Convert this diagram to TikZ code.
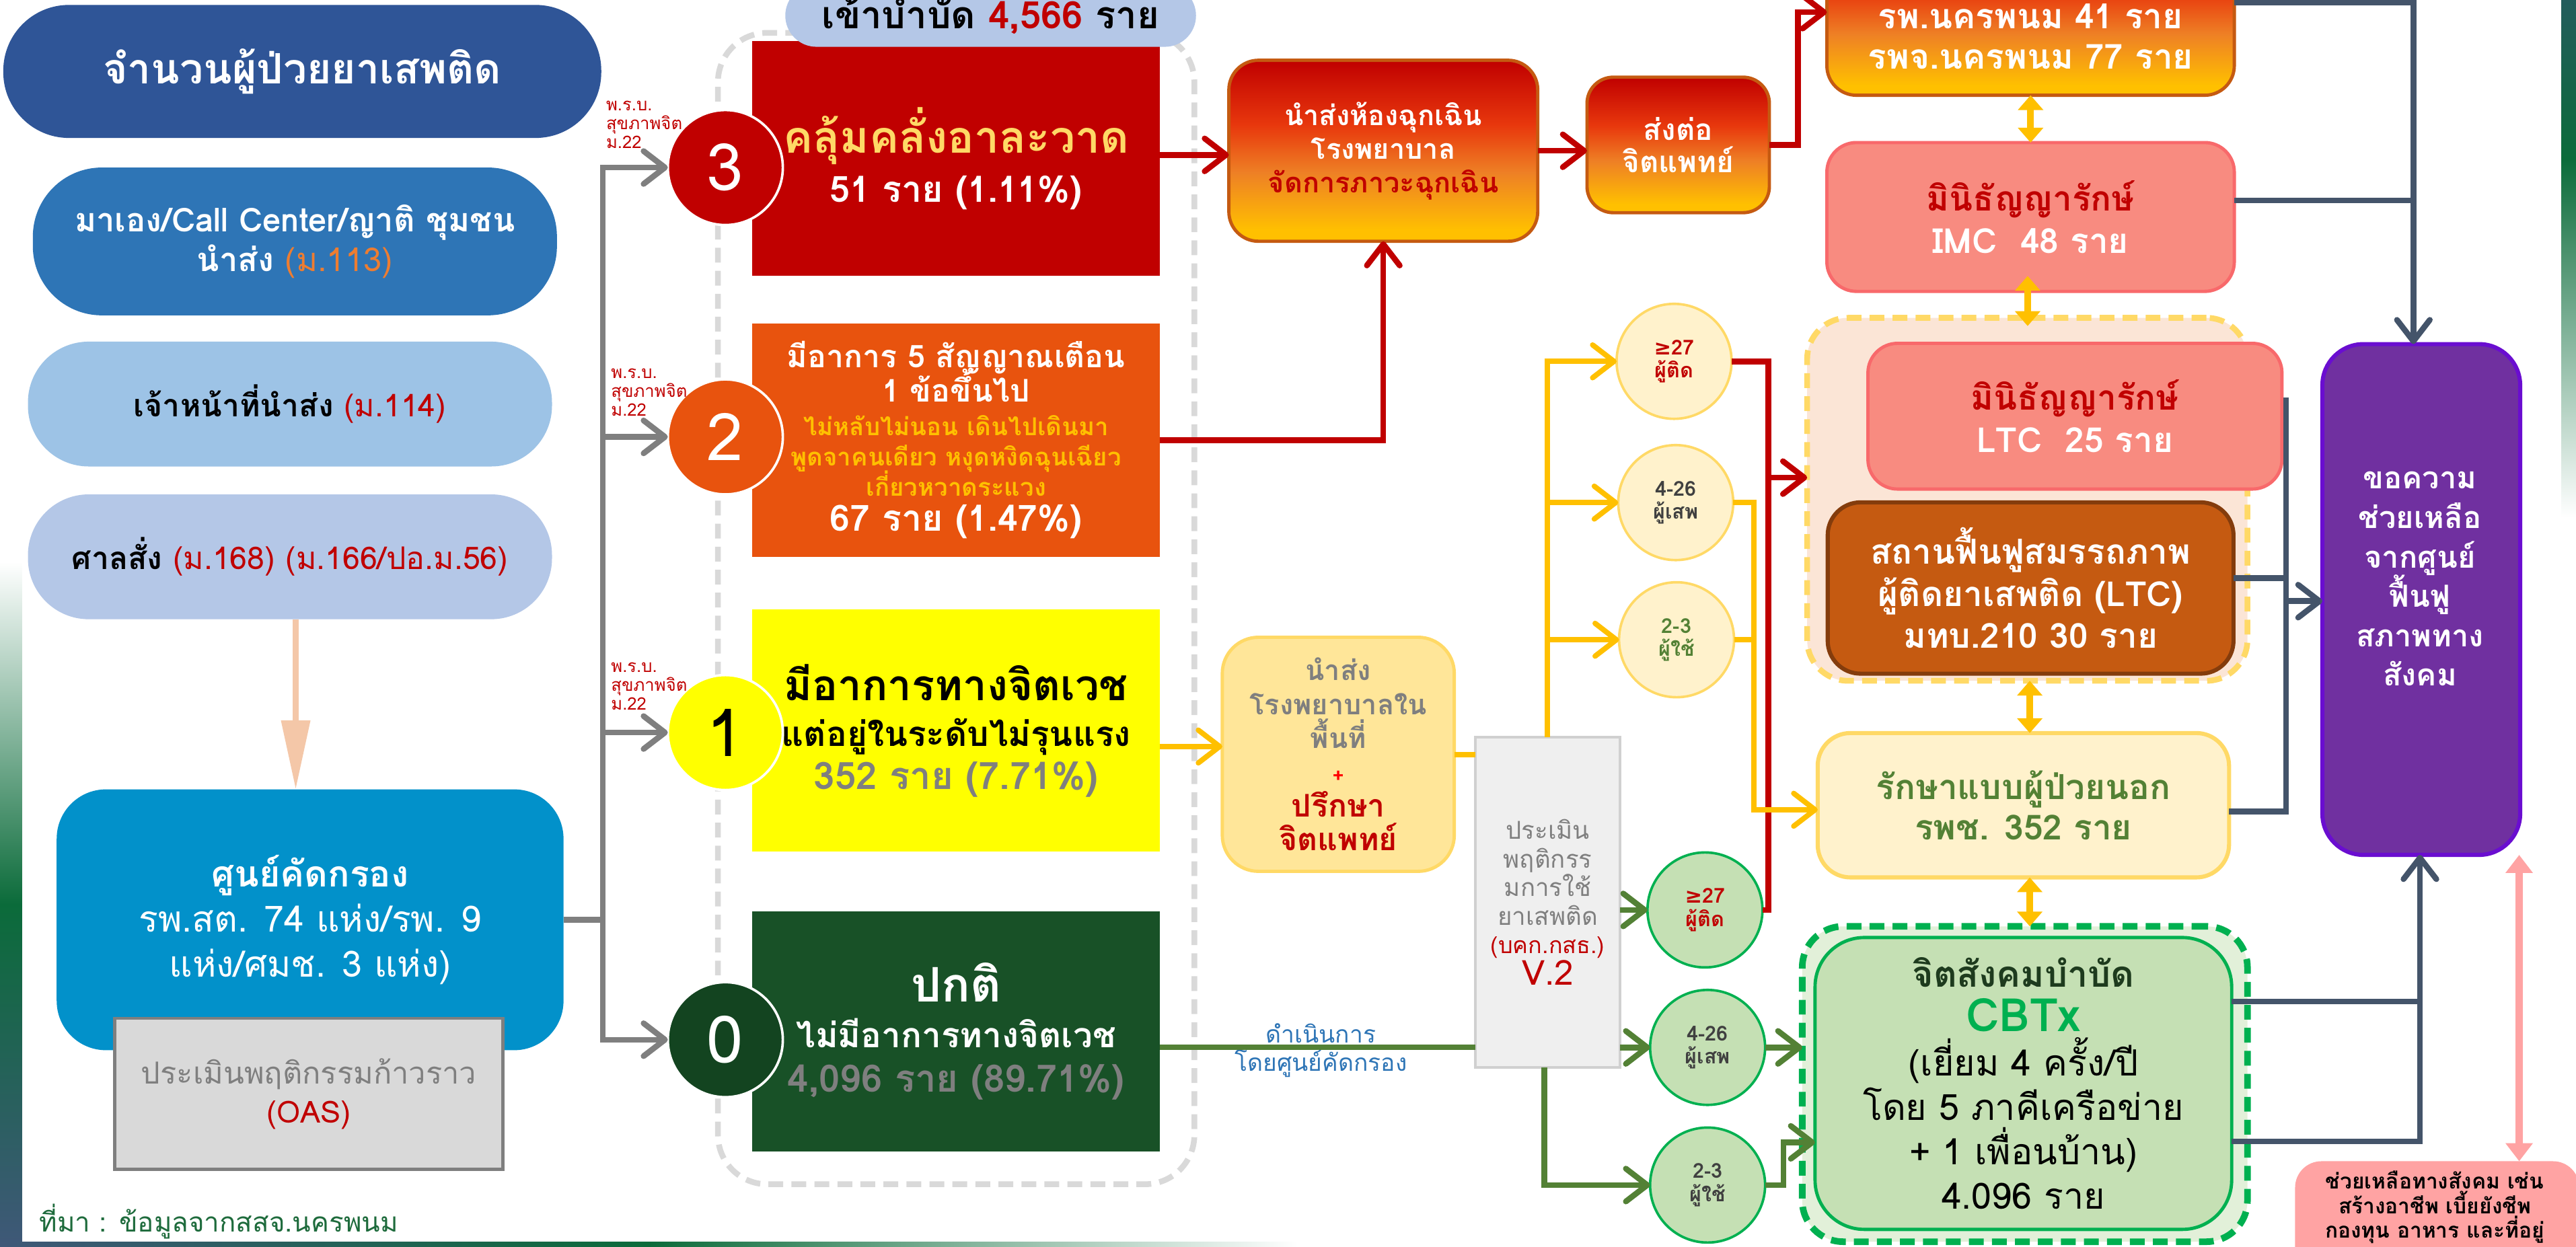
\documentclass[tikz,border=0pt]{standalone}
\usepackage{fontspec}
\setmainfont{Loma}[Script=Thai]
\newfontfamily\dejavu{DejaVu Sans}
\usetikzlibrary{arrows.meta}
\newcommand\fsz[2]{\fontsize{#1}{#2}\selectfont}
\AtBeginDocument{\lineskiplimit=-100pt\relax}
\definecolor{titleblue}{HTML}{2F5597}
\definecolor{callblue}{HTML}{2E75B6}
\definecolor{c113}{HTML}{ED7D31}
\definecolor{lblue}{HTML}{9DC3E6}
\definecolor{lavender}{HTML}{B4C7E7}
\definecolor{dred}{HTML}{C00000}
\definecolor{peach}{HTML}{F4C7A8}
\definecolor{scrblue}{HTML}{0291CA}
\definecolor{oasfill}{HTML}{D9D9D9}
\definecolor{cgray}{HTML}{7F7F7F}
\definecolor{srcgreen}{HTML}{1E6B3C}
\definecolor{orange2}{HTML}{E8530E}
\definecolor{goldtxt}{HTML}{FFD966}
\definecolor{ytxt}{HTML}{FFC000}
\definecolor{yel}{HTML}{FFFF00}
\definecolor{green0}{HTML}{185127}
\definecolor{circ0}{HTML}{134420}
\definecolor{dgray}{HTML}{D9D9D9}
\definecolor{gmid}{HTML}{E8380D}
\definecolor{orng}{HTML}{EE8025}
\definecolor{gbot}{HTML}{FFC000}
\definecolor{gborder}{HTML}{C55A11}
\definecolor{salm}{HTML}{F88B80}
\definecolor{salmb}{HTML}{F8696B}
\definecolor{ltcfill}{HTML}{FBE5D6}
\definecolor{ltcdash}{HTML}{FFD966}
\definecolor{brownf}{HTML}{C55A11}
\definecolor{brownb}{HTML}{843C0C}
\definecolor{opdfill}{HTML}{FFF2CC}
\definecolor{opdline}{HTML}{FFD966}
\definecolor{gtxt}{HTML}{538135}
\definecolor{cbtregfill}{HTML}{E2F0D9}
\definecolor{cgreen}{HTML}{00B050}
\definecolor{cbtfill}{HTML}{C5E0B4}
\definecolor{cbtdark}{HTML}{1E3B1E}
\definecolor{purp}{HTML}{7030A0}
\definecolor{purpb}{HTML}{6A0DD0}
\definecolor{pinkf}{HTML}{FFA3A3}
\definecolor{slate}{HTML}{44546A}
\definecolor{cyel}{HTML}{FFC000}
\definecolor{cgrn}{HTML}{538135}
\definecolor{lbltxt}{HTML}{2E75B6}
\definecolor{nsfill}{HTML}{FFE699}
\definecolor{gbfill}{HTML}{EFEFEF}
\definecolor{gbline}{HTML}{D0D0D0}
\definecolor{stripgreen}{HTML}{0B6B3A}
\definecolor{stripblue}{HTML}{3F5878}
\definecolor{rtop}{HTML}{235C5C}
\definecolor{dgtxt}{HTML}{404040}
\pgfdeclareverticalshading{emg}{100bp}{color(0bp)=(gbot); color(28bp)=(gbot); color(44bp)=(orng); color(57bp)=(gmid); color(75bp)=(dred); color(100bp)=(dred)}
\tikzset{
  bbar/.tip={Straight Barb[length=13pt,width=20pt,round]},
  ytri/.tip={Triangle[length=9pt,width=15pt]},
  pktri/.tip={Triangle[length=11pt,width=16pt]},
  peachtri/.tip={Triangle[length=42pt,width=17pt]},
}
\begin{document}
\begin{tikzpicture}[x=1pt,y=-1pt,
  every node/.style={inner sep=0pt,outer sep=0pt},
  rc/.style={draw=dred,line width=3.5pt},
  yc/.style={draw=cyel,line width=3.2pt},
  gc/.style={draw=cgrn,line width=3.5pt},
  sc/.style={draw=slate,line width=3.5pt},
  grc/.style={draw=cgray,line width=3.5pt},
  dbl/.style={draw=cyel,line width=4pt,ytri-ytri},
  emgbox/.style={shade,shading=emg,draw=gborder,line width=2pt},
  salmbox/.style={fill=salm,draw=salmb,line width=2pt,rounded corners=18pt},
  numcirc/.style={circle,minimum size=70pt,draw=white,line width=1.5pt,font=\fsz{40}{40}},
  lbl/.style={anchor=west,align=left,text=dred,font=\fsz{10.5}{11.5}},
  ycirc/.style={circle,minimum size=70pt,fill=opdfill,draw=opdline,line width=1.5pt,align=center,font=\bfseries\fsz{12.5}{14}},
  gcirc/.style={circle,minimum size=70pt,fill=cbtfill,draw=cgreen,line width=1.5pt,align=center,font=\bfseries\fsz{12.5}{14}},
  sqbox/.style={minimum width=248pt,align=center},
]
\useasboundingbox (0,0) rectangle (1568,759);
\clip (0,0) rectangle (1568,759);
\fill[white] (0,0) rectangle (1568,759);
% decorative strips
\shade[top color=white,bottom color=stripblue,middle color=stripgreen] (0,342) rectangle (13.5,759);
\shade[left color=stripblue,right color=white,middle color=stripgreen] (0,756) rectangle (790,759);
\shade[top color=rtop,bottom color=stripgreen] (1559,0) rectangle (1568,97);
\shade[top color=stripgreen,bottom color=white] (1559,97) rectangle (1568,315);

% left column
\node[fill=titleblue,rounded corners=40pt,minimum width=364pt,minimum height=81pt,text=white,font=\bfseries\fsz{25.5}{28}] (title) at (184,43.5) {จำนวนผู้ป่วยยาเสพติด};
\node[fill=callblue,rounded corners=42pt,minimum width=319pt,minimum height=90pt,text=white,align=center,font=\bfseries\fsz{20}{24}] (callc) at (179.5,147) {มาเอง/Call Center/ญาติ ชุมชน\\นำส่ง {\mdseries\color{c113}(ม.113)}};
\node[fill=lblue,rounded corners=37pt,minimum width=319pt,minimum height=76pt,font=\bfseries\fsz{19}{24}] (officer) at (176.5,246) {เจ้าหน้าที่นำส่ง {\mdseries\color{dred}(ม.114)}};
\node[fill=lavender,rounded corners=37pt,minimum width=319pt,minimum height=76pt,font=\bfseries\fsz{19}{24}] (court) at (176.5,339) {ศาลสั่ง {\mdseries\color{dred}(ม.168) (ม.166/ปอ.ม.56)}};
\node[fill=scrblue,rounded corners=30pt,minimum width=308.5pt,minimum height=158.8pt,text=white,align=center,font=\fsz{22}{27.5}] (screen) at (188.75,560) {{\bfseries ศูนย์คัดกรอง}\\รพ.สต. 74 แห่ง/รพ. 9\\แห่ง/ศมช. 3 แห่ง)};
\node[fill=oasfill,draw=cgray,line width=2pt,minimum width=236pt,minimum height=92pt,text=cgray,align=center,font=\fsz{18.5}{23.5}] (oas) at (188,666) {ประเมินพฤติกรรมก้าวราว\\{\color{dred}(OAS)}};
\node[anchor=west,text=srcgreen,font=\fsz{16.5}{18}] (src) at (24,743.5) {ที่มา : ข้อมูลจากสสจ.นครพนม};

\coordinate (pk) at (180,0);
\draw[draw=peach,line width=3.5pt,-peachtri] (court.south -| pk) -- (screen.north -| pk);

% dashed region and level boxes
\node[draw=dgray,dash pattern=on 9pt off 5pt,line width=3.5pt,rounded corners=30pt,minimum width=290pt,minimum height=701pt] (dreg) at (582,370.5) {};
\node[sqbox,fill=dred,minimum height=143pt,text=white,font=\bfseries\fsz{22}{29.6}] (b3) at (582,96.5) {{\color{goldtxt}\fsz{27}{29.6}คลุ้มคลั่งอาละวาด}\\51 ราย (1.11\%)};
\node[sqbox,fill=orange2,minimum height=142pt,text=white,font=\bfseries\fsz{19}{20.5}] (b2) at (582,268) {มีอาการ 5 สัญญาณเตือน\\1 ข้อขึ้นไป\\{\color{ytxt}\fsz{15}{18}ไม่หลับไม่นอน เดินไปเดินมา}\\[-2pt]{\color{ytxt}\fsz{15}{18}พูดจาคนเดียว หงุดหงิดฉุนเฉียว}\\[-2pt]{\color{ytxt}\fsz{15}{18}เกี่ยวหวาดระแวง}\\[1pt]{\fsz{22}{22}67 ราย (1.47\%)}};
\node[sqbox,fill=yel,minimum height=147.5pt,font=\bfseries\fsz{21}{28}] (b1) at (582,444.8) {{\fsz{26}{28}มีอาการทางจิตเวช}\\แต่อยู่ในระดับไม่รุนแรง\\[-2pt]{\color{cgray}\fsz{23}{28}352 ราย (7.71\%)}};
\node[sqbox,fill=green0,minimum height=146.5pt,text=white,font=\bfseries\fsz{21}{28}] (b0) at (582,628) {{\fsz{29}{28}ปกติ}\\ไม่มีอาการทางจิตเวช\\[-1pt]{\color{cgray}\fsz{23}{28}4,096 ราย (89.71\%)}};
\node[fill=lavender,rounded corners=19pt,minimum width=250pt,minimum height=38pt,font=\bfseries\fsz{23}{24}] (pill) at (603,9.5) {เข้าบำบัด {\color{dred}4,566} ราย};

% circles
\node[numcirc,fill=dred,text=white] (c3) at (441.5,102) {3};
\node[numcirc,fill=orange2,text=white] (c2) at (441.5,266) {2};
\node[numcirc,fill=yel,text=black] (c1) at (441.5,446) {1};
\node[numcirc,fill=circ0,text=white] (c0) at (441.5,633) {0};
\node[lbl] (l3) at (369,76) {พ.ร.บ.\\สุขภาพจิต\\ม.22};
\node[lbl] (l2) at (372,239) {พ.ร.บ.\\สุขภาพจิต\\ม.22};
\node[lbl] (l1) at (372,418) {พ.ร.บ.\\สุขภาพจิต\\ม.22};

% gray connectors
\coordinate (gt) at (367,0);
\draw[grc] (screen.east) -- (screen.east -| gt);
\draw[grc,line cap=rect] (c3.west -| gt) -- (c0.west -| gt);
\foreach \c in {c3,c2,c1,c0} \draw[grc,-bbar] (\c.west -| gt) -- (\c.west);

% emergency chain
\node[emgbox,rounded corners=18pt,minimum width=188pt,minimum height=110.2pt,align=center,text=white,font=\bfseries\fsz{17}{20.5}] (emerg) at (842,91.8) {นำส่งห้องฉุกเฉิน\\โรงพยาบาล\\{\color{dred}จัดการภาวะฉุกเฉิน}};
\node[emgbox,rounded corners=16pt,minimum width=111pt,minimum height=82.5pt,align=center,text=white,font=\bfseries\fsz{18}{20}] (send) at (1021.5,88.25) {ส่งต่อ\\จิตแพทย์};
\node[emgbox,rounded corners=18pt,minimum width=248pt,minimum height=98pt] (topb) at (1236,9) {};
\node[text=white,align=center,font=\bfseries\fsz{21}{24.7}] (topt) at (1236,22.3) {รพ.นครพนม 41 ราย\\รพจ.นครพนม 77 ราย};

% right column
\node[salmbox,minimum width=248pt,minimum height=90.6pt,align=center,font=\bfseries\fsz{21}{26}] (imc) at (1236,132.1) {{\color{dred}มินิธัญญารักษ์}\\{\color{white}IMC\ \ 48 ราย}};
\node[fill=ltcfill,draw=ltcdash,dash pattern=on 9pt off 5pt,line width=3.5pt,rounded corners=25pt,minimum width=268pt,minimum height=221pt] (ltcreg) at (1234,304) {};
\node[salmbox,minimum width=252pt,minimum height=88.7pt,align=center,font=\bfseries\fsz{21}{26}] (ltc) at (1263,253.4) {{\color{dred}มินิธัญญารักษ์}\\{\color{white}LTC\ \ 25 ราย}};
\node[fill=brownf,draw=brownb,line width=2.5pt,rounded corners=20pt,minimum width=247pt,minimum height=104.3pt,text=white,align=center,font=\bfseries\fsz{21}{25.6}] (rehab) at (1236,358) {สถานฟื้นฟูสมรรถภาพ\\ผู้ติดยาเสพติด (LTC)\\มทบ.210 30 ราย};
\node[fill=opdfill,draw=opdline,line width=2.5pt,rounded corners=20pt,minimum width=250.4pt,minimum height=87.9pt,text=gtxt,align=center,font=\bfseries\fsz{21}{24.8}] (opd) at (1231.6,490.25) {รักษาแบบผู้ป่วยนอก\\รพช. 352 ราย};
\node[fill=cbtregfill,draw=cgreen,dash pattern=on 9pt off 5pt,line width=4pt,rounded corners=25pt,minimum width=271pt,minimum height=192pt] (cbtreg) at (1232.5,660) {};
\node[fill=cbtfill,draw=cgreen,line width=2pt,rounded corners=30pt,minimum width=253.6pt,minimum height=177.7pt,align=center,font=\fsz{22}{27}] (cbtx) at (1231.6,659.65) {{\bfseries\color{cbtdark}จิตสังคมบำบัด}\\{\bfseries\color{cgreen}\fsz{28}{27}CBTx}\\(เยี่ยม 4 ครั้ง/ปี\\โดย 5 ภาคีเครือข่าย\\+ 1 เพื่อนบ้าน)\\4.096 ราย};
\node[fill=purp,draw=purpb,line width=2.5pt,rounded corners=25pt,minimum width=120.4pt,minimum height=311pt] (purple) at (1473.8,365) {};
\node[text=white,align=center,font=\bfseries\fsz{18.5}{24}] (purplet) at (1473,352.5) {ขอความ\\ช่วยเหลือ\\จากศูนย์\\ฟื้นฟู\\สภาพทาง\\สังคม};
\node[fill=pinkf,rounded corners=16pt,minimum width=173pt,minimum height=68pt] (pinkb) at (1483.5,741) {};
\node[align=center,font=\bfseries\fsz{13}{15}] (pinkt) at (1482,735) {ช่วยเหลือทางสังคม เช่น\\สร้างอาชีพ เบี้ยยังชีพ\\กองทุน อาหาร และที่อยู่};

% middle: referral, assessment, circles
\node[fill=nsfill,draw=opdline,line width=2pt,rounded corners=22pt,minimum width=141.2pt,minimum height=142.5pt,align=center,text=cgray,font=\bfseries\fsz{17}{20.7}] (ns) at (814.6,459.25) {นำส่ง\\โรงพยาบาลใน\\พื้นที่\\{\color{red}\fsz{12}{20.7}+}\\{\color{dred}\fsz{19}{20.7}ปรึกษา}\\{\color{dred}\fsz{19}{20.7}จิตแพทย์}};
\node[fill=gbfill,draw=gbline,line width=1.5pt,minimum width=88.2pt,minimum height=201.3pt,align=center,text=cgray,font=\fsz{15}{17.4}] (gb) at (942.1,549.35) {ประเมิน\\พฤติกรร\\มการใช้\\ยาเสพติด\\{\color{dred}\fsz{14}{17.4}(บคก.กสธ.)}\\[2pt]{\color{dred}\fsz{21}{17.4}V.2}};
\node[ycirc] (y27) at (1019,220) {{\color{dred}{\dejavu\bfseries ≥}27}\\{\color{dred}ผู้ติด}};
\node[ycirc] (y426) at (1020,306) {{\color{dgtxt}4-26}\\{\color{dgtxt}ผู้เสพ}};
\node[ycirc] (y23) at (1020.5,389.5) {{\color{gtxt}2-3}\\{\color{gtxt}ผู้ใช้}};
\node[gcirc] (g27) at (1037.8,554) {{\color{dred}{\dejavu\bfseries ≥}27}\\{\color{dred}ผู้ติด}};
\node[gcirc] (g426) at (1039.4,637.7) {{\color{dgtxt}4-26}\\{\color{dgtxt}ผู้เสพ}};
\node[gcirc] (g23) at (1039.4,721.5) {{\color{dgtxt}2-3}\\{\color{dgtxt}ผู้ใช้}};
\node[text=lbltxt,font=\fsz{14.5}{16}] (dl1) at (804,629) {ดำเนินการ};
\node[text=lbltxt,font=\fsz{14.5}{16}] (dl2) at (804,647.6) {โดยศูนย์คัดกรอง};

% red connectors
\coordinate (r1) at (0,94.3);
\draw[rc,-bbar] (b3.east |- r1) -- (emerg.west |- r1);
\draw[rc,-bbar] (b2.east) -| (emerg.south);
\draw[rc,-bbar] (emerg.east) -- (emerg.east -| send.west);
\coordinate (rj) at (1094.5,7.4);
\draw[rc,-bbar] (send.east) -| (rj) -- (rj -| topb.west);
\coordinate (rv) at (1076.4,290.8);
\draw[rc] (y27.east) -- (y27.east -| rv) -- (g27.east -| rv) -- (g27.east);
\draw[rc,-bbar] (rv) -- (rv -| ltcreg.west);

% yellow connectors
\coordinate (ya) at (0,454.5);
\draw[yc,-bbar] (b1.east |- ya) -- (ns.west |- ya);
\coordinate (yb) at (0,459.5);
\draw[yc] (ns.east |- yb) -- (gb.west |- yb);
\coordinate (yt) at (942,0);
\draw[yc,-bbar] (yt |- gb.north) |- (y27.west);
\draw[yc,-bbar] (yt |- y426.west) -- (y426.west);
\draw[yc,-bbar] (yt |- y23.west) -- (y23.west);
\coordinate (yv) at (1067.6,493);
\draw[yc,-bbar] (y426.east) -| (yv) -- (yv -| opd.west);
\draw[yc] (y23.east) -- (y23.east -| yv);

% green connectors
\coordinate (ga) at (0,637.6);
\draw[gc] (b0.east |- ga) -- (gb.west |- ga);
\draw[gc,-bbar] (gb.east |- g27.west) -- (g27.west);
\draw[gc,-bbar] (gb.east |- g426.west) -- (g426.west);
\coordinate (gx) at (940,0);
\draw[gc,-bbar] (gx |- gb.south) |- (g23.west);
\draw[gc,-bbar] (g426.east) -- (g426.east -| cbtreg.west);
\coordinate (gv) at (1085.5,695.5);
\draw[gc,-bbar] (g23.east) -| (gv) -- (gv -| cbtx.west);

% slate connectors
\coordinate (sx) at (1469,1.5);
\draw[sc,-bbar] (topb.east |- sx) -- (sx) -- (sx |- purple.north);
\coordinate (si) at (0,122);
\draw[sc] (imc.east |- si) -- (sx |- si);
\coordinate (sv) at (1391.5,242);
\coordinate (so) at (0,494);
\draw[sc] (sv) -- (sv |- so) -- (opd.east |- so);
\coordinate (sr) at (0,352);
\draw[sc] (rehab.east |- sr) -- (sv |- sr);
\coordinate (sa) at (0,366);
\draw[sc,-bbar] (sv |- sa) -- (purple.west |- sa);
\coordinate (pv) at (1473,0);
\coordinate (cy1) at (0,609.7);
\coordinate (cy2) at (0,695);
\draw[sc] (cbtx.east |- cy1) -- (pv |- cy1);
\draw[sc,-bbar] (cbtx.east |- cy2) -- (pv |- cy2) -- (pv |- purple.south);

% double arrows
\draw[dbl] (topb.south) -- (imc.north);
\coordinate (d2a) at (1234.2,168);
\coordinate (d2b) at (1234.2,198.5);
\draw[dbl] (d2a) -- (d2b);
\coordinate (dax) at (1235.5,0);
\draw[dbl] (dax |- ltcreg.south) -- (dax |- opd.north);
\draw[dbl] (dax |- opd.south) -- (dax |- cbtreg.north);
\coordinate (pkx) at (1533.4,0);
\draw[draw=pinkf,line width=4.5pt,pktri-pktri] (pkx |- purple.south) -- (pkx |- pinkb.north);
\end{tikzpicture}
\end{document}
